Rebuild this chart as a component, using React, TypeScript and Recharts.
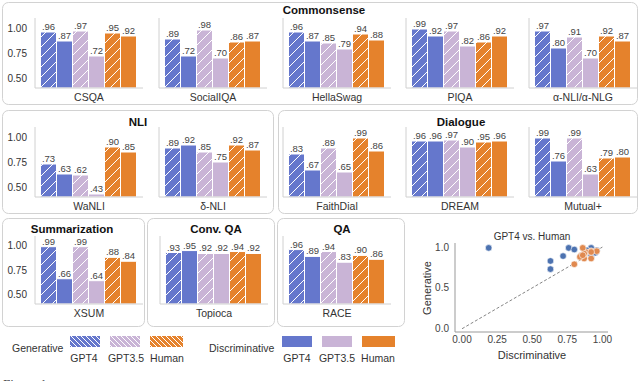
import React from 'react';
import { BarChart, Bar, XAxis, YAxis, LabelList, ScatterChart, Scatter, ReferenceLine } from 'recharts';

// ---------- data ----------
const datasets = ['CSQA', 'SocialIQA', 'HellaSwag', 'PIQA', 'α-NLI/α-NLG', 'WaNLI', 'δ-NLI', 'FaithDial', 'DREAM', 'Mutual+', 'XSUM', 'Topioca', 'RACE'];
const genGPT4 = [0.96, 0.89, 0.96, 0.99, 0.97, 0.73, 0.89, 0.83, 0.96, 0.99, 0.99, 0.93, 0.96];
const discGPT4 = [0.87, 0.72, 0.87, 0.92, 0.80, 0.63, 0.92, 0.67, 0.96, 0.76, 0.66, 0.95, 0.89];
const genGPT35 = [0.97, 0.98, 0.85, 0.97, 0.91, 0.62, 0.85, 0.89, 0.97, 0.99, 0.99, 0.92, 0.94];
const discGPT35 = [0.72, 0.70, 0.79, 0.82, 0.70, 0.43, 0.75, 0.65, 0.90, 0.63, 0.64, 0.92, 0.83];
const genHuman = [0.95, 0.86, 0.94, 0.86, 0.92, 0.90, 0.92, 0.99, 0.95, 0.79, 0.88, 0.94, 0.90];
const discHuman = [0.92, 0.87, 0.88, 0.92, 0.87, 0.85, 0.87, 0.86, 0.96, 0.80, 0.84, 0.92, 0.86];
const barTicks = [0.5, 0.75, 1.0];

const scatterGPT4Disc = [0.19, 0.63, 0.63, 0.72, 0.76, 0.80, 0.87, 0.92, 0.92, 0.96, 0.95, 0.89];
const scatterGPT4Gen = [0.99, 0.83, 0.73, 0.89, 0.99, 0.97, 0.96, 0.99, 0.89, 0.96, 0.93, 0.96];
const scatterHumanDisc = [0.92, 0.87, 0.88, 0.92, 0.87, 0.85, 0.87, 0.86, 0.96, 0.80, 0.84, 0.92, 0.86];
const scatterHumanGen = [0.95, 0.86, 0.94, 0.86, 0.92, 0.90, 0.92, 0.99, 0.95, 0.79, 0.88, 0.94, 0.90];
const scatterXTicks = [0, 0.25, 0.5, 0.75, 1];
const scatterYTicks = [0, 0.5, 1];

const legendModels = ['GPT4', 'GPT3.5', 'Human'];

// ---------- styles ----------
const FONT = '"Liberation Sans", Arial, Helvetica, sans-serif';
const C_BLUE = '#6577cc';
const C_LILAC = '#c9b4d6';
const C_ORANGE = '#e5822c';
const S_BLUE = '#4c72b0';
const S_ORANGE = '#e0894f';
const AXIS_GRAY = '#d0d0d0';

const series = [
  { key: 'g4', values: genGPT4, color: C_BLUE, hatch: true },
  { key: 'd4', values: discGPT4, color: C_BLUE, hatch: false },
  { key: 'g35', values: genGPT35, color: C_LILAC, hatch: true },
  { key: 'd35', values: discGPT35, color: C_LILAC, hatch: false },
  { key: 'gh', values: genHuman, color: C_ORANGE, hatch: true },
  { key: 'dh', values: discHuman, color: C_ORANGE, hatch: false },
];

const fmt = (v: any) => Number(v).toFixed(2).replace(/^0/, '');

const AXW = 35;
const PLOTW = 108;

function SubChart({ idx, axisX, top, plotH, showTicks }: { idx: number; axisX: number; top: number; plotH: number; showTicks: boolean }) {
  const row: any = { name: datasets[idx] };
  series.forEach((s) => (row[s.key] = s.values[idx]));
  const h = plotH + 24;
  return (
    <div style={{ position: 'absolute', left: axisX - AXW, top, width: AXW + PLOTW, height: h }}>
      <BarChart width={AXW + PLOTW} height={h} data={[row]} margin={{ top: 0, right: 0, bottom: 0, left: 0 }} barCategoryGap={5.5} barGap={0}>
        <XAxis dataKey="name" height={24} axisLine={{ stroke: AXIS_GRAY }} tickLine={false} tickSize={0} tickMargin={6} interval={0}
          tick={{ fontSize: 10.5, fill: '#333', fontFamily: FONT }} />
        <YAxis type="number" width={AXW} domain={[0.4, 1.1]} allowDataOverflow ticks={barTicks} tickFormatter={(v: number) => v.toFixed(2)}
          axisLine={{ stroke: AXIS_GRAY }} tickLine={false} tickSize={0} tickMargin={8}
          tick={showTicks ? { fontSize: 10, fill: '#333', fontFamily: FONT } : false} />
        {series.map((s) => (
          <Bar key={s.key} dataKey={s.key} fill={s.hatch ? `url(#hatch-${s.key})` : s.color} stroke="#fff" strokeWidth={1} isAnimationActive={false}>
            <LabelList dataKey={s.key} position="top" offset={2} formatter={fmt} fontSize={9.5} fill="#444" fontFamily={FONT} />
          </Bar>
        ))}
      </BarChart>
    </div>
  );
}

const rows = [
  { top: 18, plotH: 70 },
  { top: 127, plotH: 70 },
  { top: 236, plotH: 68 },
];

const layout = [
  { idx: 0, axisX: 35, row: 0 },
  { idx: 1, axisX: 159, row: 0 },
  { idx: 2, axisX: 283, row: 0 },
  { idx: 3, axisX: 406, row: 0 },
  { idx: 4, axisX: 529, row: 0 },
  { idx: 5, axisX: 35, row: 1 },
  { idx: 6, axisX: 159, row: 1 },
  { idx: 7, axisX: 283, row: 1 },
  { idx: 8, axisX: 406, row: 1 },
  { idx: 9, axisX: 529, row: 1 },
  { idx: 10, axisX: 35, row: 2 },
  { idx: 11, axisX: 160, row: 2 },
  { idx: 12, axisX: 283, row: 2 },
];

const panels = [
  { x: 2, y: 2, w: 635, h: 102, title: 'Commonsense', tx: 324, ty: 10 },
  { x: 2, y: 110, w: 271, h: 103, title: 'NLI', tx: 138, ty: 122 },
  { x: 278, y: 110, w: 359, h: 103, title: 'Dialogue', tx: 461, ty: 122 },
  { x: 2, y: 218, w: 142, h: 108, title: 'Summarization', tx: 72, ty: 229 },
  { x: 147, y: 218, w: 127, h: 108, title: 'Conv. QA', tx: 216, ty: 229 },
  { x: 277, y: 218, w: 127, h: 108, title: 'QA', tx: 342, ty: 229 },
];

const dot = (color: string) => (props: any) => (
  <circle cx={props.cx} cy={props.cy} r={3.3} fill={color} stroke="#fff" strokeWidth={0.6} />
);

function Defs() {
  const hatchColors = [
    ['g4', C_BLUE],
    ['g35', C_LILAC],
    ['gh', C_ORANGE],
  ];
  return (
    <svg width={0} height={0} style={{ position: 'absolute', left: 0, top: 0 }}>
      <defs>
        {hatchColors.map(([k, c]) => (
          <pattern key={k} id={`hatch-${k}`} patternUnits="userSpaceOnUse" width={10} height={10}>
            <rect width={10} height={10} fill={c} />
            <path d="M-1,1 L1,-1 M0,10 L10,0 M9,11 L11,9" stroke="#fff" strokeWidth={1} />
          </pattern>
        ))}
        {hatchColors.map(([k, c]) => (
          <pattern key={'l' + k} id={`lhatch-${k}`} patternUnits="userSpaceOnUse" width={5} height={5}>
            <rect width={5} height={5} fill={c} />
            <path d="M0,0 L5,5 M-1,4 L1,6 M4,-1 L6,1" stroke="#fff" strokeWidth={1} />
          </pattern>
        ))}
      </defs>
    </svg>
  );
}

export default function App() {
  const gptPts = scatterGPT4Disc.map((x, i) => ({ x, y: scatterGPT4Gen[i] }));
  const humanPts = scatterHumanDisc.map((x, i) => ({ x, y: scatterHumanGen[i] }));
  const genSw = [
    { x: 70, w: 30, fill: 'url(#lhatch-g4)', lx: 84 },
    { x: 110, w: 30, fill: 'url(#lhatch-g35)', lx: 126 },
    { x: 150, w: 33, fill: 'url(#lhatch-gh)', lx: 167 },
  ];
  const discSw = [
    { x: 282, w: 30, fill: C_BLUE, lx: 297 },
    { x: 322, w: 30, fill: C_LILAC, lx: 337 },
    { x: 362, w: 33, fill: C_ORANGE, lx: 378 },
  ];
  return (
    <div style={{ position: 'absolute', left: 0, top: 0, width: 640, height: 381, background: '#fff', overflow: 'hidden', fontFamily: FONT }}>
      <Defs />
      <svg width={640} height={381} style={{ position: 'absolute', left: 0, top: 0 }}>
        {panels.map((p) => (
          <g key={p.title}>
            <rect x={p.x + 0.5} y={p.y + 0.5} width={p.w} height={p.h} rx={6} fill="none" stroke="#d2d2d2" strokeWidth={1} />
            <text x={p.tx} y={p.ty + 4} textAnchor="middle" fontSize={11.5} fontWeight="bold" fill="#111" fontFamily={FONT}>{p.title}</text>
          </g>
        ))}
        {/* legend */}
        <text x={12} y={352} fontSize={10.5} fill="#333" fontFamily={FONT}>Generative</text>
        {genSw.map((s, i) => (
          <g key={'g' + i}>
            <rect x={s.x} y={336} width={s.w} height={11} fill={s.fill} />
            <text x={s.lx} y={362} textAnchor="middle" fontSize={10.5} fill="#333" fontFamily={FONT}>{legendModels[i]}</text>
          </g>
        ))}
        <text x={209} y={352} fontSize={10.5} fill="#333" fontFamily={FONT}>Discriminative</text>
        {discSw.map((s, i) => (
          <g key={'d' + i}>
            <rect x={s.x} y={336} width={s.w} height={11} fill={s.fill} />
            <text x={s.lx} y={362} textAnchor="middle" fontSize={10.5} fill="#333" fontFamily={FONT}>{legendModels[i]}</text>
          </g>
        ))}
        {/* scatter texts */}
        <text x={532} y={240} textAnchor="middle" fontSize={10} fill="#333" fontFamily={FONT}>GPT4 vs. Human</text>
        <text x={532} y={359} textAnchor="middle" fontSize={11} fill="#333" fontFamily={FONT}>Discriminative</text>
        <text x={431} y={288} textAnchor="middle" fontSize={11} fill="#333" fontFamily={FONT} transform="rotate(-90 431 288)">Generative</text>
        <text x={3} y={388} fontSize={13} fill="#444" fontFamily='"Liberation Serif", serif'>Figure 1:</text>
      </svg>
      {layout.map((l) => (
        <SubChart key={l.idx} idx={l.idx} axisX={l.axisX} top={rows[l.row].top} plotH={rows[l.row].plotH} showTicks={l.axisX === 35} />
      ))}
      <div style={{ position: 'absolute', left: 410, top: 230 }}>
        <ScatterChart width={210} height={140} margin={{ top: 13, right: 12, bottom: 18, left: 15 }}>
          <XAxis type="number" dataKey="x" domain={[-0.05, 1.04]} allowDataOverflow ticks={scatterXTicks} tickFormatter={(v: number) => v.toFixed(2)}
            height={20} axisLine={{ stroke: '#999' }} tickLine={false} tickSize={0} tickMargin={4}
            tick={{ fontSize: 10, fill: '#444', fontFamily: FONT }} />
          <YAxis type="number" dataKey="y" domain={[-0.04, 1.05]} allowDataOverflow ticks={scatterYTicks} tickFormatter={(v: number) => v.toFixed(1)}
            width={30} axisLine={{ stroke: '#999' }} tickLine={false} tickSize={0} tickMargin={6}
            tick={{ fontSize: 10, fill: '#444', fontFamily: FONT }} />
          <ReferenceLine segment={[{ x: 0, y: 0 }, { x: 1, y: 1 }]} stroke="#666" strokeDasharray="3 2" strokeWidth={0.8} ifOverflow="visible" />
          <Scatter data={gptPts} isAnimationActive={false} shape={dot(S_BLUE)} />
          <Scatter data={humanPts} isAnimationActive={false} shape={dot(S_ORANGE)} />
        </ScatterChart>
      </div>
    </div>
  );
}
